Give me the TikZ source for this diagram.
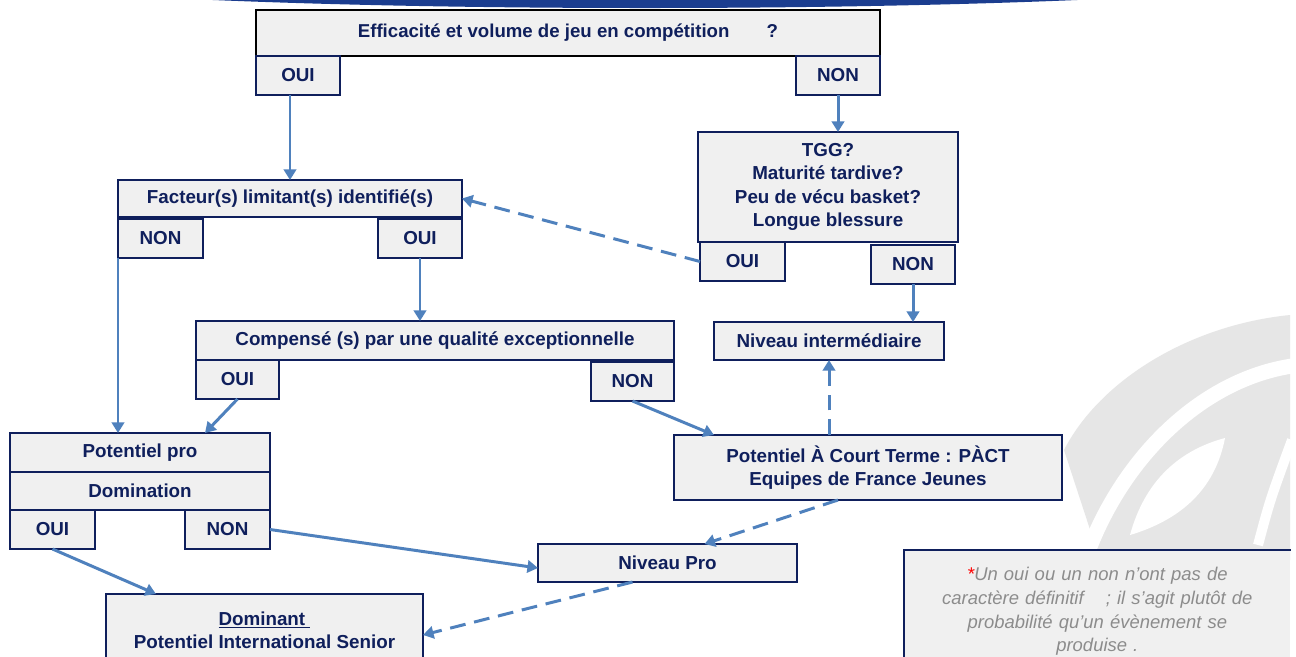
\documentclass[tikz,border=0pt]{standalone}
\usepackage{fontspec}
\setmainfont{Liberation Sans}
\usepackage{xcolor}
\usetikzlibrary{arrows.meta,positioning}
\definecolor{navy}{HTML}{0F1F5C}
\definecolor{boxgray}{HTML}{F0F0F0}
\definecolor{arrowblue}{HTML}{4F81BD}
\definecolor{bannerblue}{HTML}{1B3D8F}
\definecolor{markgray}{HTML}{E6E6E6}
\definecolor{notegray}{HTML}{8C8C8C}

\begin{document}
\begin{tikzpicture}[
  qbox/.style={draw=navy, line width=1.3pt, fill=boxgray, text=navy, align=center, inner sep=0pt, outer sep=0pt, anchor=north west, font=\fontsize{10.7}{13.3}\selectfont\bfseries},
  ansbox/.style={qbox, minimum width=1.68cm, minimum height=0.78cm},
  notebox/.style={fill=boxgray, text=notegray, align=center, anchor=north west, text width=7.44cm, inner xsep=0.14cm, inner ysep=0pt, minimum height=2.44cm, font=\fontsize{10.5}{13.6}\selectfont\itshape},
  edge/.style={-{Triangle[length=6pt,width=7pt]}, line width=1.7pt, arrowblue},
  dedge/.style={edge, dash pattern=on 9pt off 5pt}
]
\clip (0,0) rectangle (25.92,-13.12);
\fill[white] (0,0) rectangle (25.92,-13.12);

% banner and logo in the background
\fill[bannerblue] (12.9,0.64) ellipse [x radius=14.4cm, y radius=0.8cm];
\fill[markgray] (25.8,-6.3) .. controls (23.8,-6.5) and (22.0,-7.6) .. (21.28,-9.0) -- (22.0,-11.2) -- (25.8,-11.2) -- cycle;
\draw[white, line width=0.3cm] (25.84,-7.32) .. controls (24.0,-7.6) and (22.4,-9.2) .. (21.7,-11.2);
\fill[white] (22.6,-10.7) .. controls (22.9,-9.6) and (23.6,-9.0) .. (24.5,-8.76) .. controls (24.3,-9.8) and (23.6,-10.4) .. (22.6,-10.7) -- cycle;
\draw[white, line width=0.2cm] (25.16,-10.9) .. controls (25.4,-10.0) .. (25.84,-8.8);

% first question
\node[qbox, draw=black, minimum width=12.48cm, minimum height=0.92cm, font=\fontsize{10.6}{12}\selectfont\bfseries] (eff) at (5.12,-0.20) {Efficacité et volume de jeu en compétition\hspace{2em}?};
\node[ansbox, below right=0cm and 0cm of eff.south west] (effoui) {OUI};
\node[ansbox, below left=0cm and 0cm of eff.south east] (effnon) {NON};

\node[qbox, minimum width=5.20cm, minimum height=2.20cm] (tgg) at (13.96,-2.64) {TGG?\\Maturité tardive?\\Peu de vécu basket?\\Longue blessure};
\node[ansbox, minimum width=1.70cm, below right=0cm and 0.04cm of tgg.south west] (tggoui) {OUI};
\node[ansbox, below left=0.06cm and 0.06cm of tgg.south east] (tggnon) {NON};

\node[qbox, minimum width=6.88cm, minimum height=0.74cm] (fac) at (2.36,-3.60) {Facteur(s) limitant(s) identifié(s)};
\node[ansbox, minimum width=1.70cm, below right=0.04cm and 0cm of fac.south west] (facnon) {NON};
\node[ansbox, below left=0.04cm and 0cm of fac.south east] (facoui) {OUI};

\node[qbox, minimum width=4.60cm, minimum height=0.76cm] (niv) at (14.28,-6.44) {Niveau intermédiaire};

\node[qbox, minimum width=9.56cm, minimum height=0.78cm] (comp) at (3.92,-6.42) {Compensé (s) par une qualité exceptionnelle};
\node[ansbox, minimum width=1.66cm, below right=0cm and 0cm of comp.south west] (compoui) {OUI};
\node[ansbox, minimum width=1.66cm, below left=0.04cm and 0cm of comp.south east] (compnon) {NON};

\node[qbox, minimum width=5.20cm, minimum height=0.78cm] (pot) at (0.20,-8.66) {Potentiel pro};
\node[qbox, minimum width=5.20cm, minimum height=0.76cm, below=0cm of pot] (dom) {Domination};
\node[ansbox, minimum width=1.70cm, below right=0cm and 0cm of dom.south west] (domoui) {OUI};
\node[ansbox, minimum width=1.70cm, below left=0cm and 0cm of dom.south east] (domnon) {NON};

\node[qbox, minimum width=7.76cm, minimum height=1.30cm] (pact) at (13.48,-8.70) {Potentiel À Court Terme : PÀCT\\Equipes de France Jeunes};
\node[qbox, minimum width=5.18cm, minimum height=0.76cm] (nivpro) at (10.76,-10.88) {Niveau Pro};
\node[qbox, minimum width=6.34cm, minimum height=1.44cm] (dominant) at (2.12,-11.88) {\underline{Dominant\ }\\Potentiel International Senior};

\node[notebox] (note) at (18.08,-11.00) {\textcolor{red}{*}Un oui ou un non n’ont pas de\\caractère définitif\hspace{1.2em}; il s’agit plutôt de\\probabilité qu’un évènement se\\produise .};
\draw[navy, line width=1.2pt] (note.south west) -- (note.north west) -- (note.north east);

% connectors
\draw[edge] (fac.north |- effoui.south) -- (fac.north);
\draw[edge] (effnon.south) -- (effnon.south |- tgg.north);
\draw[dedge] (tggoui.west) -- (fac.east);
\draw[edge] (tggnon.south) -- (tggnon.south |- niv.north);
\draw[edge] (facnon.south west) -- (facnon.south west |- pot.north);
\draw[edge] (facoui.south) -- (facoui.south |- comp.north);
\draw[edge] (compoui.south) -- ([xshift=-1.3cm]pot.north east);
\draw[edge] (compnon.south) -- ([xshift=0.8cm]pact.north west);
\draw[dedge] (niv.south |- pact.north) -- (niv.south);
\draw[dedge] ([xshift=-0.6cm]pact.south) -- ([xshift=0.74cm]nivpro.north);
\draw[edge] (domnon.east) -- ([yshift=-0.1cm]nivpro.west);
\draw[edge] (domoui.south) -- ([xshift=1cm]dominant.north west);
\draw[dedge] ([xshift=-0.7cm]nivpro.south) -- ([yshift=-0.1cm]dominant.east);
\end{tikzpicture}
\end{document}
